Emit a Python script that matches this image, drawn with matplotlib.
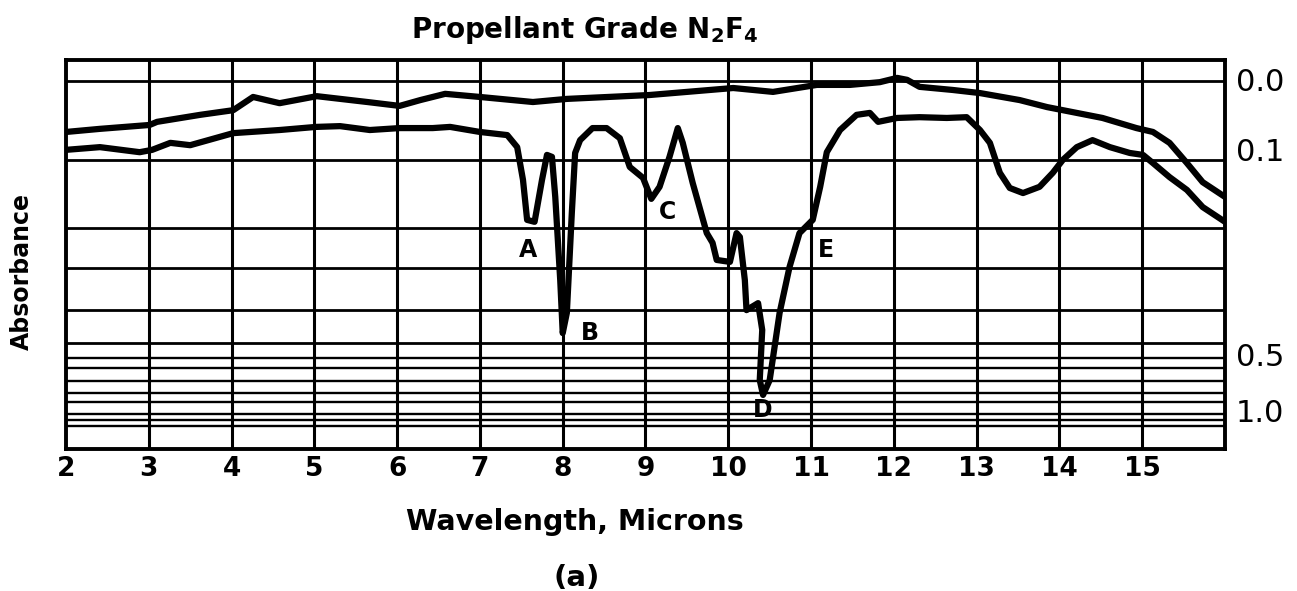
import numpy as np
import matplotlib
matplotlib.use('Agg')
import matplotlib.pyplot as plt

plt.rcParams['font.family'] = ['DejaVu Sans']
plt.rcParams['mathtext.default'] = 'regular'

#############################################################################
## Data
## y is chart depth in % of the grid height (0 = top edge, 100 = bottom edge)

# reference (upper) trace
ref_wl = [2.00, 2.41, 3.01, 3.10, 3.62, 4.02, 4.26, 4.58, 5.03, 5.64, 6.03, 6.28,
          6.58, 7.00, 7.64, 8.05, 9.05, 10.06, 10.54, 11.07, 11.47, 11.83, 12.04,
          12.16, 12.31, 12.71, 13.04, 13.52, 13.85, 14.52, 14.93, 15.13, 15.33,
          15.54, 15.73, 16.00]
ref_depth = [18.5, 17.7, 16.7, 15.9, 14.1, 12.9, 9.5, 11.1, 9.3, 10.8, 11.8, 10.3,
             8.7, 9.5, 10.8, 10.0, 9.0, 7.2, 8.2, 6.4, 6.4, 5.7, 4.6,
             5.1, 6.9, 7.7, 8.5, 10.3, 12.1, 14.9, 17.5, 18.5, 21.3,
             26.5, 31.4, 35.2]

# N2F4 sample (lower) trace
smp_wl = [2.00, 2.41, 2.89, 3.04, 3.26, 3.50, 4.02, 4.58, 5.02, 5.31, 5.67, 6.03,
          6.43, 6.64, 7.00, 7.33, 7.45, 7.52, 7.57, 7.66, 7.75, 7.81, 7.87, 7.91,
          7.97, 8.00, 8.05, 8.11, 8.15, 8.21, 8.36, 8.53, 8.69, 8.81, 8.97, 9.07,
          9.17, 9.29, 9.39, 9.45, 9.57, 9.74, 9.81, 9.86, 10.02, 10.10, 10.14,
          10.20, 10.22, 10.36, 10.41, 10.38, 10.42, 10.50, 10.62, 10.74, 10.86,
          11.02, 11.11, 11.19, 11.35, 11.55, 11.71, 11.81, 12.04, 12.31, 12.64,
          12.88, 13.04, 13.16, 13.28, 13.40, 13.56, 13.76, 13.92, 14.04, 14.21,
          14.40, 14.61, 14.85, 15.01, 15.13, 15.33, 15.54, 15.73, 16.00]
smp_depth = [23.1, 22.4, 23.7, 23.1, 21.3, 21.9, 18.8, 18.0, 17.2, 17.0, 18.0, 17.5,
             17.5, 17.2, 18.5, 19.3, 22.4, 30.8, 41.1, 41.6, 30.8, 24.4, 24.9, 35.2,
             56.6, 70.2, 65.0, 39.3, 23.9, 20.6, 17.5, 17.5, 20.1, 27.5, 30.3, 35.7,
             32.6, 24.9, 17.5, 21.3, 31.6, 44.5, 47.0, 51.4, 51.9, 44.5, 45.5,
             56.6, 64.3, 62.5, 69.4, 82.3, 86.1, 82.3, 65.0, 53.2, 44.5,
             41.1, 32.6, 23.7, 18.0, 14.1, 13.6, 15.9, 14.9, 14.7, 14.9,
             14.7, 18.0, 21.3, 29.0, 32.9, 34.2, 32.6, 29.0, 25.7, 22.4,
             20.6, 22.4, 23.9, 24.4, 26.5, 30.1, 33.4, 37.8, 41.6]

# chart paper rulings and absorbance labels
grid_depth = [5.4, 25.7, 43.2, 53.5, 64.3, 72.8, 76.6, 79.2, 82.5, 85.6, 87.9,
              91.0, 92.5, 94.1]
abs_labels = ['0.0', '0.1', '0.5', '1.0']
abs_depth = [5.1, 23.1, 75.8, 90.0]

wl_ticks = list(range(2, 16))

# band letters
band_names = ['A', 'B', 'C', 'D', 'E']
band_wl = [7.58, 8.33, 9.26, 10.42, 11.18]
band_depth = [48.8, 70.2, 39.1, 90.0, 48.8]

#############################################################################

fig = plt.figure(figsize=(12.97, 5.91), dpi=100)
ax = fig.add_axes([66/1297, 1-449/591, 1159/1297, 389/591])

ax.set_xlim(2, 16)
ax.set_ylim(100, 0)

# paper grid
for x in wl_ticks[1:]:
    ax.axvline(x, color='black', lw=2.2, zorder=1)
for i, d in enumerate(grid_depth):
    ax.axhline(d, color='black', lw=2.0 if i < 6 else 1.7, zorder=1)

ax.plot(ref_wl, ref_depth, color='black', lw=4.5, solid_joinstyle='round',
        solid_capstyle='round', zorder=3)
ax.plot(smp_wl, smp_depth, color='black', lw=4.5, solid_joinstyle='round',
        solid_capstyle='round', zorder=3)

for name, x, d in zip(band_names, band_wl, band_depth):
    ax.text(x, d, name, fontsize=17, fontweight='bold', ha='center', va='center',
            zorder=4)

for s in ax.spines.values():
    s.set_linewidth(2.8)

ax.set_xticks(wl_ticks)
ax.set_xticklabels([str(t) for t in wl_ticks], fontsize=19, fontweight='bold')
ax.tick_params(axis='x', length=0, pad=5)

ax.yaxis.tick_right()
ax.set_yticks(abs_depth)
ax.set_yticklabels(abs_labels, fontsize=22)
ax.tick_params(axis='y', length=0, pad=8)

fig.text(585/1297, 1-30/591, r'Propellant Grade N$_2$F$_4$', fontsize=20,
         fontweight='bold', ha='center', va='center')
fig.text(575/1297, 1-522/591, 'Wavelength, Microns', fontsize=20.5,
         fontweight='bold', ha='center', va='center')
fig.text(577/1297, 1-578/591, '(a)', fontsize=21, fontweight='bold',
         ha='center', va='center')
fig.text(22/1297, 1-272/591, 'Absorbance', fontsize=17, fontweight='bold',
         rotation=90, ha='center', va='center')

fig.savefig('out.png', dpi=100)
